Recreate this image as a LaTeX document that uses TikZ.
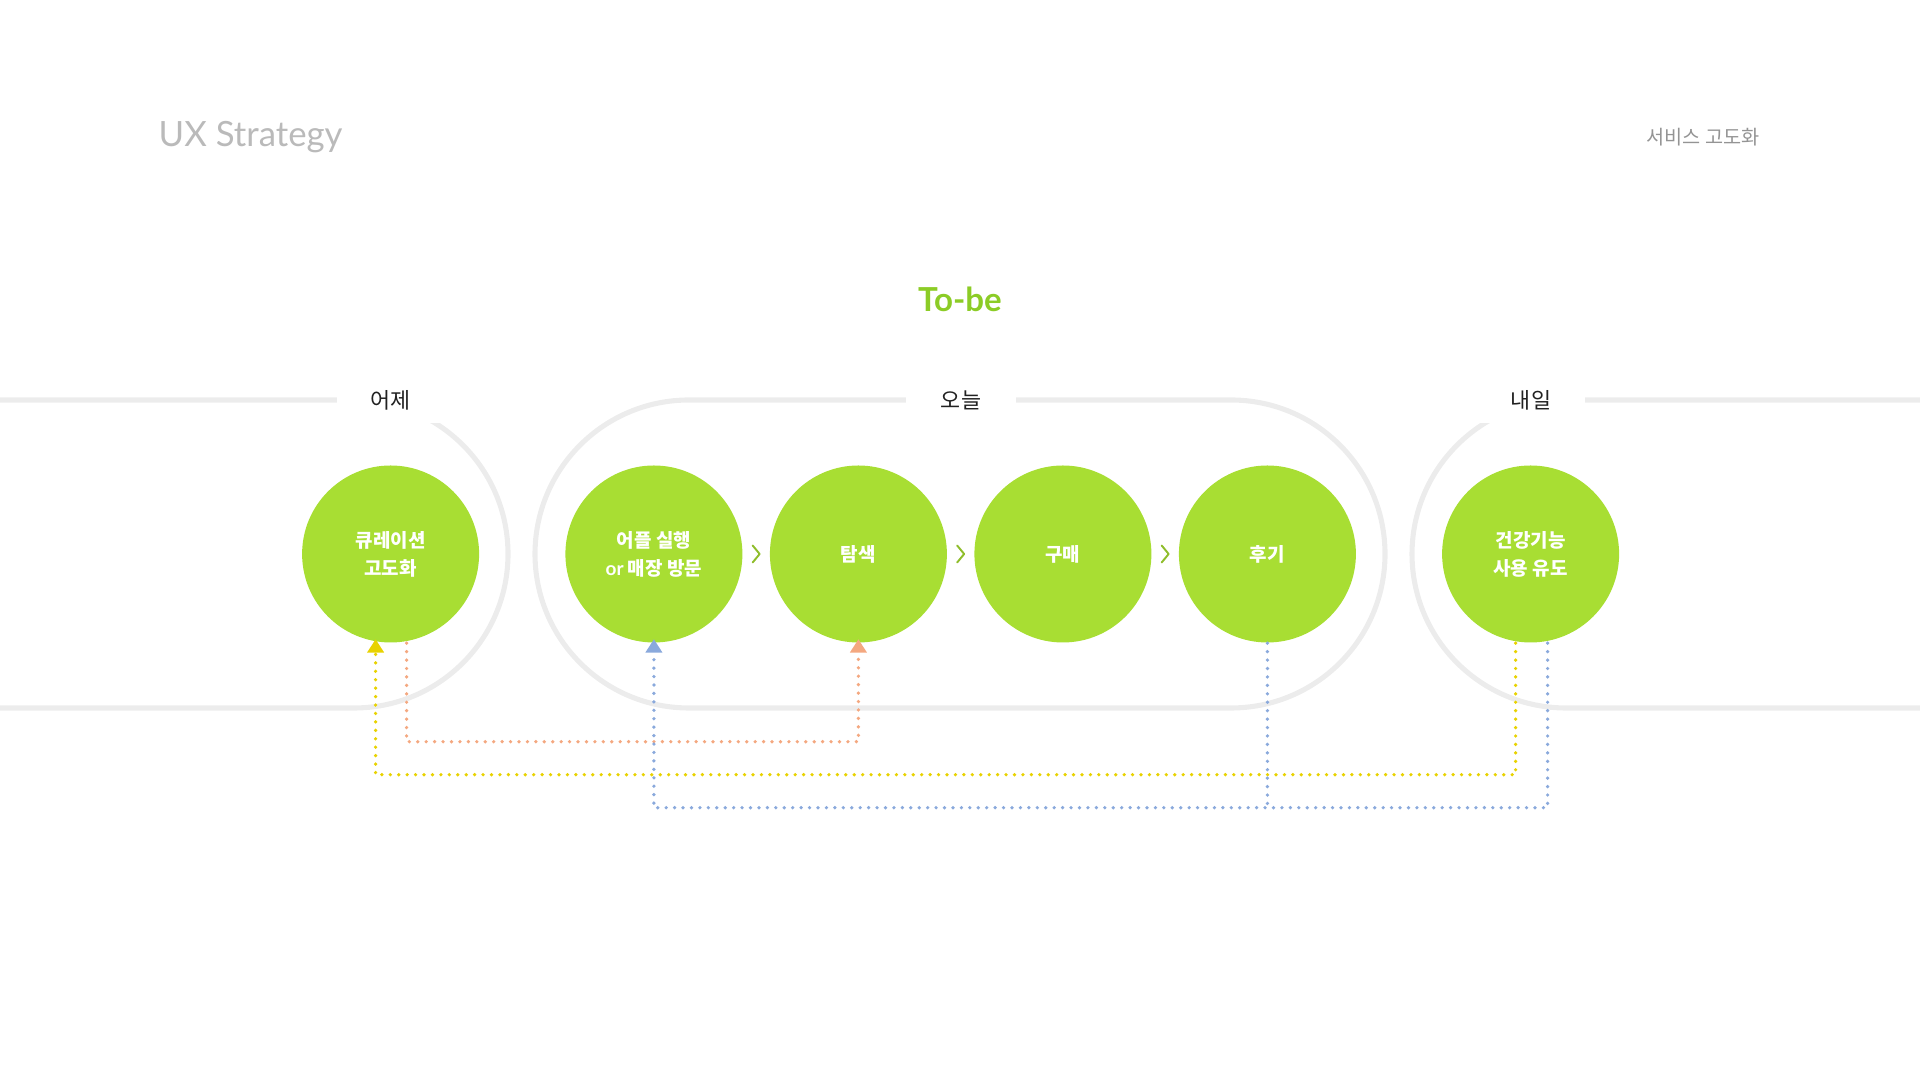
\documentclass[tikz,border=0pt]{standalone}
\usepackage{fontspec}
\setmainfont{Lato}
\newfontfamily\kr{Noto Sans CJK KR}
\usepackage{tikz}
\usetikzlibrary{arrows.meta,positioning,calc}
\usepackage{xcolor}
\definecolor{stagegreen}{RGB}{168,222,51}
\definecolor{tobegreen}{RGB}{140,204,38}
\definecolor{trackgray}{RGB}{236,236,236}
\definecolor{linkyellow}{RGB}{232,210,0}
\definecolor{linkorange}{RGB}{244,168,128}
\definecolor{linkblue}{RGB}{138,169,220}
\tikzset{
    stage/.style={circle, fill=stagegreen, minimum size=1.77cm, inner sep=0pt, text=white, align=center, font=\kr\bfseries\fontsize{5.4}{8}\selectfont},
    era/.style={fill=white, minimum width=1.08cm, minimum height=0.46cm, inner sep=0pt, text=black!87, font=\kr\fontsize{6.2}{7}\selectfont},
    track/.style={line width=1.45pt, trackgray},
    chev/.style={line width=0.55pt, stagegreen!85!black, line cap=round, line join=round},
    link/.style={line width=1.05pt, line cap=round, dash pattern=on 0pt off 2.4pt, -{Triangle[width=4.6pt,length=3.8pt]}},
    linkY/.style={link, linkyellow},
    linkO/.style={link, linkorange},
    linkB/.style={link, linkblue},
}
\begin{document}
\begin{tikzpicture}
    \useasboundingbox (0,0) rectangle (19.2,10.8);

    % Header
    \node[anchor=base west, inner sep=0pt, text=black!27, font=\fontsize{9.9}{11}\selectfont] (title) at (1.58,9.33) {UX Strategy};
    \node[anchor=east, inner sep=0pt, text=black!42, font=\kr\fontsize{5.6}{7}\selectfont] (section) at (17.6,9.43) {서비스 고도화};
    \node[text=tobegreen, font=\bfseries\fontsize{9.4}{11}\selectfont] (tobe) at (9.6,7.81) {To-be};

    % Tracks
    \draw[track] (0,6.8) -- (3.54,6.8) arc[start angle=90, end angle=-90, radius=1.54] -- (0,3.72);
    \draw[track] (6.89,6.8) -- (12.31,6.8) arc[start angle=90, end angle=-90, radius=1.54]
        -- (6.89,3.72) arc[start angle=270, end angle=90, radius=1.54] -- cycle;
    \draw[track] (19.2,6.8) -- (15.66,6.8) arc[start angle=90, end angle=270, radius=1.54] -- (19.2,3.72);

    \node[era] (past) at (3.906,6.8) {어제};
    \node[era, minimum width=1.1cm] (today) at (9.61,6.8) {오늘};
    \node[era] (future) at (15.31,6.8) {내일};

    % Stages
    \node[stage] (curation) at (3.906,5.26) {큐레이션\\고도화};
    \node[stage] (launch) at (6.539,5.26) {어플 실행\\{\fontspec{Lato}\bfseries or} 매장 방문};
    \node[stage] (search) at (8.584,5.26) {탐색};
    \node[stage] (buy) at (10.629,5.26) {구매};
    \node[stage] (review) at (12.674,5.26) {후기};
    \node[stage] (health) at (15.306,5.26) {건강기능\\사용 유도};

    \foreach \a/\b in {launch/search, search/buy, buy/review}
        \draw[chev] ($(\a.east)!0.5!(\b.west)+(-0.035,0.085)$) -- ++(0.07,-0.085) -- ++(-0.07,-0.085);

    % Links
    \draw[linkO] ([xshift=0.16cm]curation.south) -- ++(0,-0.985) -| ([yshift=0.04cm]search.south);
    \draw[linkY] ([xshift=-0.15cm]health.south) -- ++(0,-1.315) -| ([xshift=-0.15cm,yshift=0.04cm]curation.south);
    \draw[linkB] ([xshift=0.17cm]health.south) -- ++(0,-1.645) -| ([yshift=0.04cm]launch.south);
    \draw[linkB, -] (review.south) -- ++(0,-1.645);
\end{tikzpicture}
\end{document}
